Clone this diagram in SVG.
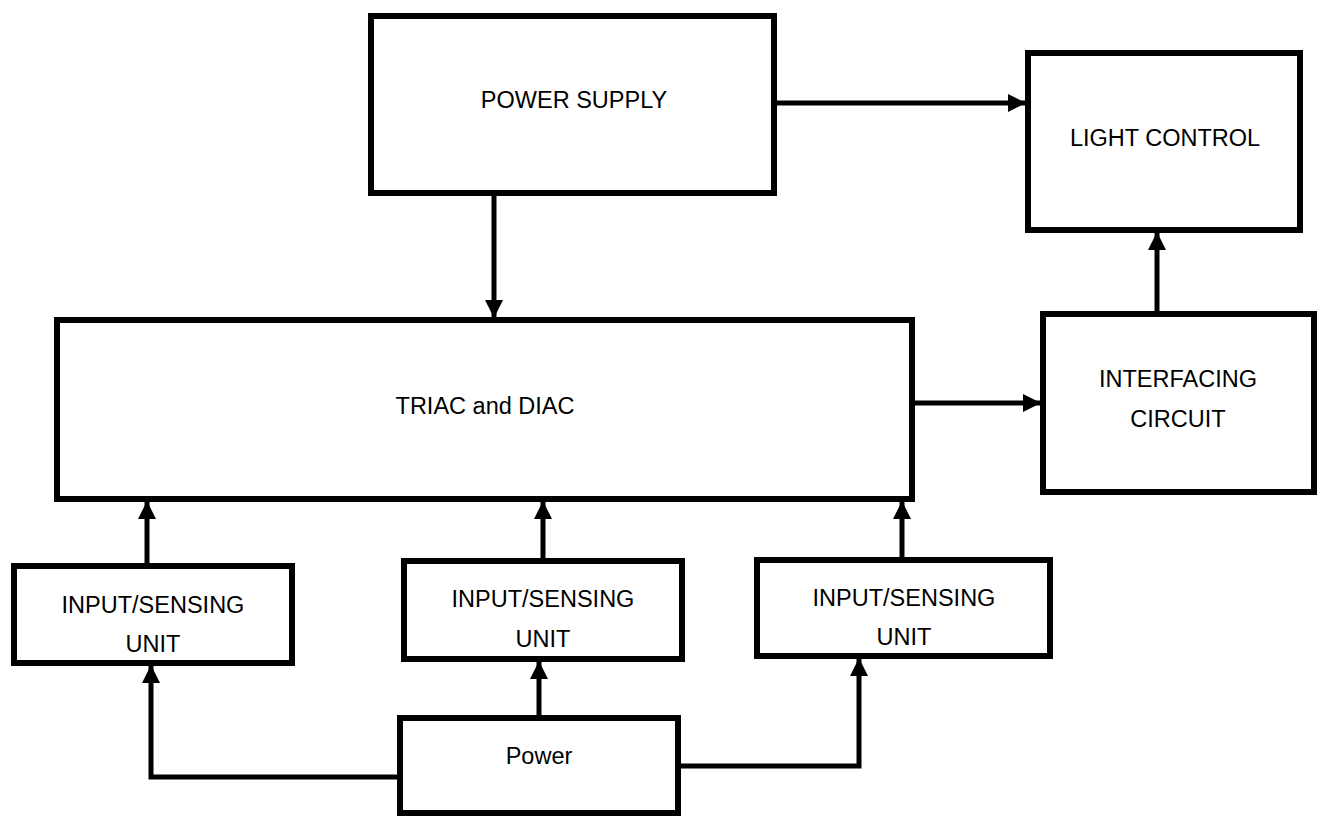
<svg xmlns="http://www.w3.org/2000/svg" width="1321" height="816" viewBox="0 0 1321 816">
<style>
.box{fill:#fff;stroke:#000;stroke-width:6}
.lbl{font-family:"Liberation Sans",Arial,sans-serif;font-size:23.5px;fill:#000;text-anchor:middle}
.conn{fill:none;stroke:#000;stroke-width:5}
</style>
<defs>
<marker id="ah" markerUnits="userSpaceOnUse" markerWidth="18" markerHeight="18" refX="17" refY="9" orient="auto">
<path d="M0,0 L18,9 L0,18 z" fill="#000"/>
</marker>
</defs>
<rect width="1321" height="816" fill="#fff"/>
<g id="connectors">
<line class="conn" x1="777" y1="103" x2="1025" y2="103" marker-end="url(#ah)"/>
<line class="conn" x1="494" y1="196" x2="494" y2="317" marker-end="url(#ah)"/>
<line class="conn" x1="915" y1="403" x2="1040" y2="403" marker-end="url(#ah)"/>
<line class="conn" x1="1157" y1="317" x2="1157" y2="233" marker-end="url(#ah)"/>
<line class="conn" x1="147" y1="563" x2="147" y2="502" marker-end="url(#ah)"/>
<line class="conn" x1="543" y1="558" x2="543" y2="502" marker-end="url(#ah)"/>
<line class="conn" x1="902" y1="557" x2="902" y2="502" marker-end="url(#ah)"/>
<line class="conn" x1="539" y1="715" x2="539" y2="662" marker-end="url(#ah)"/>
<polyline class="conn" points="397,777 151,777 151,666" marker-end="url(#ah)"/>
<polyline class="conn" points="681,766 859,766 859,659" marker-end="url(#ah)"/>
</g>
<g id="power-supply">
<rect class="box" x="371" y="16" width="403" height="177"/>
<text class="lbl" x="574" y="108">POWER SUPPLY</text>
</g>
<g id="light-control">
<rect class="box" x="1028" y="53" width="272" height="177"/>
<text class="lbl" x="1165" y="146">LIGHT CONTROL</text>
</g>
<g id="triac-diac">
<rect class="box" x="57" y="320" width="855" height="179"/>
<text class="lbl" x="485" y="414">TRIAC and DIAC</text>
</g>
<g id="interfacing-circuit">
<rect class="box" x="1043" y="314" width="271" height="178"/>
<text class="lbl" x="1178" y="387">INTERFACING</text>
<text class="lbl" x="1178" y="427">CIRCUIT</text>
</g>
<g id="input-sensing-1">
<rect class="box" x="14" y="566" width="278" height="97"/>
<text class="lbl" x="153" y="613">INPUT/SENSING</text>
<text class="lbl" x="153" y="652">UNIT</text>
</g>
<g id="input-sensing-2">
<rect class="box" x="404" y="561" width="278" height="98"/>
<text class="lbl" x="543" y="607">INPUT/SENSING</text>
<text class="lbl" x="543" y="647">UNIT</text>
</g>
<g id="input-sensing-3">
<rect class="box" x="757" y="560" width="293" height="96"/>
<text class="lbl" x="904" y="606">INPUT/SENSING</text>
<text class="lbl" x="904" y="645">UNIT</text>
</g>
<g id="power">
<rect class="box" x="400" y="718" width="278" height="95"/>
<text class="lbl" x="539" y="764">Power</text>
</g>
</svg>
